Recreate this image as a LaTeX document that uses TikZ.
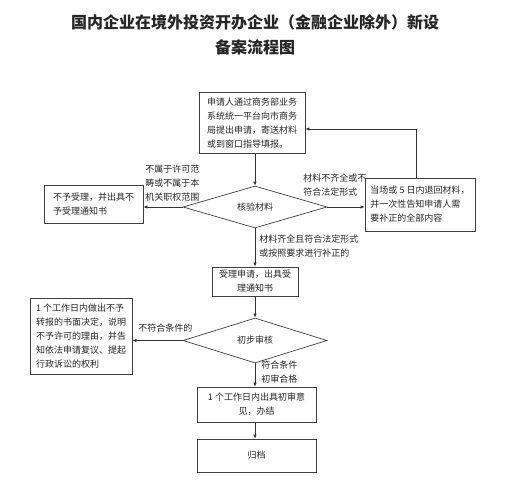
\documentclass[tikz,border=0pt]{standalone}
\usepackage{fontspec}
\setmainfont{Noto Sans CJK SC}
\usetikzlibrary{shapes.geometric,arrows.meta}
\begin{document}
\begin{tikzpicture}[x=1pt,y=-1pt,
  line width=0.7pt,
  every node/.style={font=\fontsize{9pt}{14pt}\selectfont, text=black!85},
  box/.style={draw=black!75, line width=0.7pt, inner sep=0pt, align=left},
  cbox/.style={draw=black!75, line width=0.7pt, inner sep=0pt, align=center},
  dia/.style={draw=black!75, line width=0.7pt, diamond, aspect=3.4, inner sep=0pt},
  lbl/.style={inner sep=0pt, align=left, anchor=west},
  arr/.style={draw=black!80, line width=0.7pt, -{Latex[length=4pt,width=3.5pt]}}]
\path[use as bounding box, fill=white] (0,0) rectangle (510,500);

\node[inner sep=0pt, font=\fontsize{16pt}{18pt}\selectfont\bfseries] (t1) at (255,22) {国内企业在境外投资开办企业（金融企业除外）新设};
\node[inner sep=0pt, font=\fontsize{16pt}{18pt}\selectfont\bfseries] (t2) at (255,47) {备案流程图};

\node[box, minimum width=106pt, minimum height=61pt] (b1) at (252,123) {申请人通过商务部业务\\系统统一平台向市商务\\局提出申请，寄送材料\\或到窗口指导填报。};

\node[dia, minimum width=144pt, minimum height=42pt] (d1) at (255,207) {核验材料};

\node[box, minimum width=99pt, minimum height=38pt] (lb1) at (93.5,204) {不予受理，并出具不\\予受理通知书};

\node[box, minimum width=110pt, minimum height=53pt] (rb) at (420,204.5) {当场或 5 日内退回材料，\\并一次性告知申请人需\\要补正的全部内容};

\node[cbox, minimum width=86pt, minimum height=29pt] (b2) at (255,281.5) {受理申请，出具受\\理通知书};

\node[dia, minimum width=144pt, minimum height=45pt] (d2) at (255,340.5) {初步审核};

\node[box, minimum width=102pt, minimum height=76pt] (lb2) at (81,336) {1 个工作日内做出不予\\转报的书面决定，说明\\不予许可的理由，并告\\知依法申请复议、提起\\行政诉讼的权利};

\node[cbox, minimum width=119pt, minimum height=35pt] (b3) at (256.5,404.5) {1 个工作日内出具初审意\\见，办结};

\node[cbox, minimum width=119pt, minimum height=33pt] (b4) at (256.5,455.5) {归档};

% labels
\node[lbl] (l1) at (145,183) {不属于许可范\\畴或不属于本\\机关职权范围};
\node[lbl] (l2) at (303,185.5) {材料不齐全或不\\符合法定形式};
\node[lbl] (l3) at (259,246) {材料齐全且符合法定形式\\或按照要求进行补正的};
\node[lbl] (l4) at (138,328) {不符合条件的};
\node[lbl] (l5) at (261,372) {符合条件\\初审合格};

% connectors
\coordinate (c1) at (416,129);
\draw[arr] (b1.south -| d1.north) -- (d1.north);
\draw[arr] (d1.west) -- (lb1.east |- d1.west);
\draw[arr] (d1.east) -- (rb.west |- d1.east);
\draw[arr] (rb.north -| c1) |- (b1.east |- c1);
\draw[arr] (d1.south) -- (b2.north -| d1.south);
\draw[arr] (b2.south) -- (d2.north);
\draw[arr] (d2.west) -- (lb2.east |- d2.west);
\draw[arr] (d2.south) -- (b3.north -| d2.south);
\draw[arr] (b3.south -| d2.south) -- (b4.north -| d2.south);
\end{tikzpicture}
\end{document}
